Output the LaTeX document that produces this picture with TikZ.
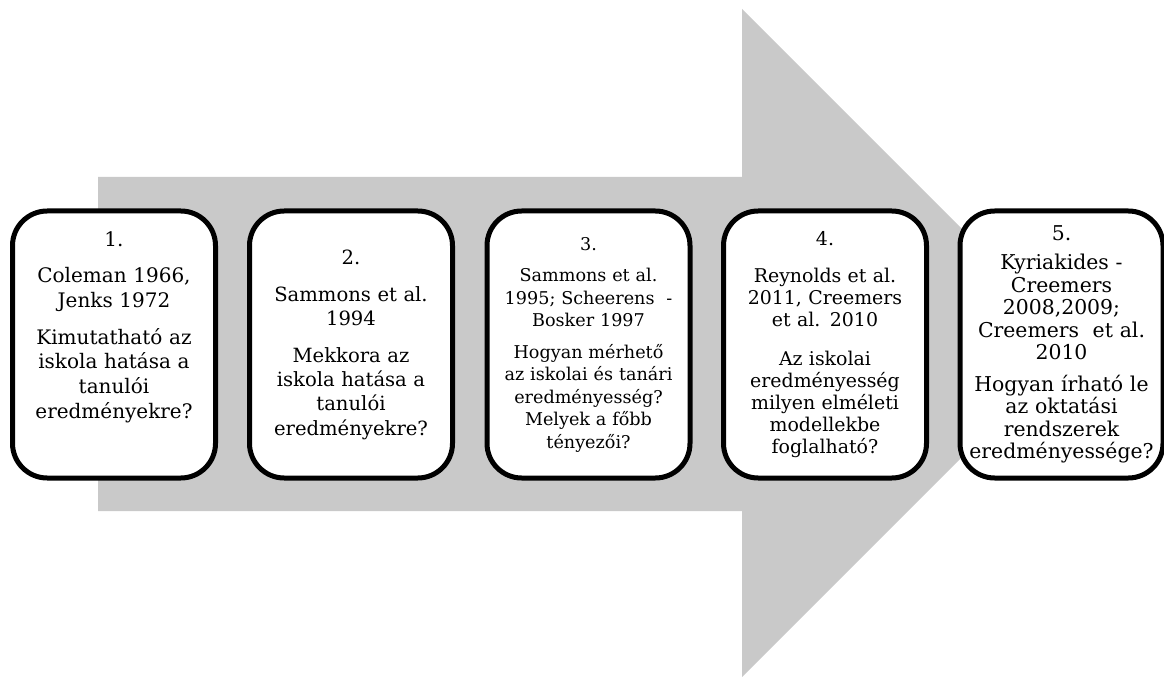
\documentclass[tikz,border=0pt]{standalone}
\usepackage{fontspec}
\setmainfont{DejaVu Serif}
\definecolor{arrowgray}{RGB}{201,201,201}
\begin{document}
\begin{tikzpicture}[x=0.75pt,y=-0.75pt,
  stepbox/.style={draw=black, line width=3.75pt, rounded corners=26pt, fill=white,
    minimum width=152.25pt, minimum height=200.25pt, inner sep=0pt},
  boxtext/.style={align=center, inner sep=0pt, text width=150pt}]
\useasboundingbox (0,0) rectangle (1164,677);
% big arrow
\fill[arrowgray] (98,177) -- (742,177) -- (742,9) -- (1076,343) -- (742,677) -- (742,511) -- (98,511) -- cycle;
% boxes
\node[stepbox] (b1) at (114,344.5) {};
\node[stepbox] (b2) at (351,344.5) {};
\node[stepbox] (b3) at (588.5,344.5) {};
\node[stepbox] (b4) at (825,344.5) {};
\node[stepbox] (b5) at (1061.5,344.5) {};
% texts
\node[boxtext, font=\fontsize{15}{18.5}\selectfont] (t1) at (114,327)
  {1.\\[9pt] Coleman 1966,\\ Jenks 1972\\[9pt] Kimutatható az\\ iskola hatása a\\ tanulói\\ eredményekre?};
\node[boxtext, font=\fontsize{14.7}{18.3}\selectfont] (t2) at (351,345)
  {2.\\[9pt] Sammons et al.\\ 1994\\[9pt] Mekkora az\\ iskola hatása a\\ tanulói\\ eredményekre?};
\node[boxtext, font=\fontsize{13.2}{16.8}\selectfont] (t3) at (588.5,344.5)
  {3.\\[7pt] Sammons et al.\\ 1995; Scheerens~ -\\ Bosker 1997\\[7pt] Hogyan mérhető\\ az iskolai és tanári\\ eredményesség?\\ Melyek a főbb\\ tényezői?};
\node[boxtext, font=\fontsize{14.2}{16.5}\selectfont] (t4) at (825,344.5)
  {4.\\[11pt] Reynolds et al.\\ 2011, Creemers\\ et al. 2010\\[13pt] Az iskolai\\ eredményesség\\ milyen elméleti\\ modellekbe\\ foglalható?};
\node[boxtext, font=\fontsize{15.3}{16.8}\selectfont] (t5) at (1061.5,344.5)
  {5.\\[5pt] Kyriakides -\\ Creemers\\ 2008,2009;\\ Creemers~ et al.\\ 2010\\[7pt] Hogyan írható le\\ az oktatási\\ rendszerek\\ eredményessége?};
\end{tikzpicture}
\end{document}
